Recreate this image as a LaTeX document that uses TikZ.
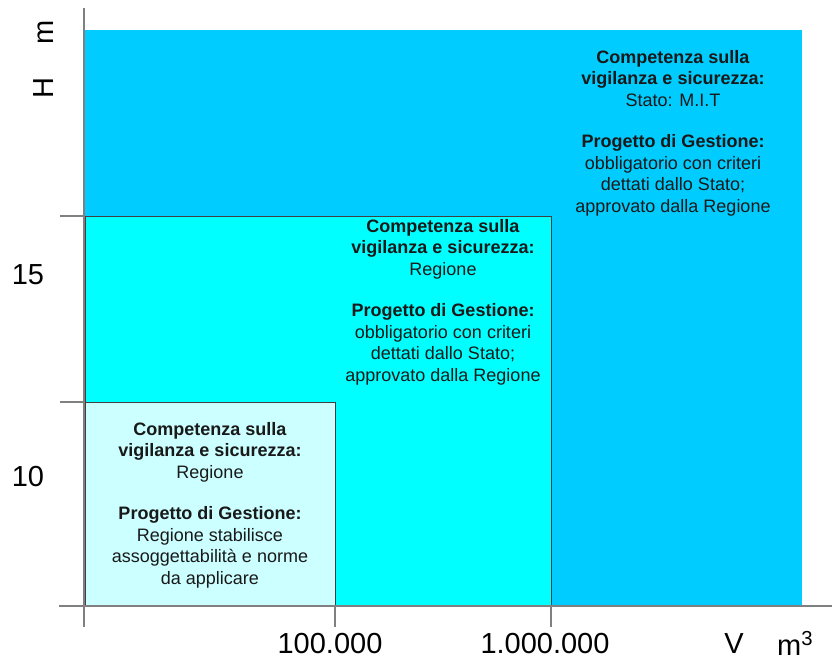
\documentclass[tikz,border=0pt]{standalone}
\usepackage{fontspec}
\setmainfont{Liberation Sans}
\definecolor{outerblue}{HTML}{00CCFF}
\definecolor{midcyan}{HTML}{00FFFF}
\definecolor{innercyan}{HTML}{CCFFFF}
\definecolor{axisgray}{HTML}{808080}
\definecolor{edgegray}{HTML}{404040}
\begin{document}
\begin{tikzpicture}[x=1pt,y=-1pt,
  blocktext/.style={align=center,font=\fontsize{18}{21.5}\selectfont,text=black!90,inner sep=0pt},
  axislabel/.style={font=\fontsize{29}{32}\selectfont,inner sep=0pt},
  axisline/.style={draw=axisgray,line width=1.2pt},
  zone/.style={line width=0.9pt}]
\useasboundingbox (0,0) rectangle (832,661);
% zones
\fill[outerblue] (85,30) rectangle (802,606);
\filldraw[zone,fill=midcyan,draw=edgegray] (85,216) rectangle (551,606);
\filldraw[zone,fill=innercyan,draw=edgegray] (85,402) rectangle (335,606);
% axes
\draw[axisline] (84,8) -- (84,627);
\draw[axisline] (59,606) -- (832,606);
\draw[axisline] (60,216) -- (84,216);
\draw[axisline] (60,402) -- (84,402);
\draw[axisline] (335,606) -- (335,627);
\draw[axisline] (551,606) -- (551,627);
% texts
\node[blocktext] (outer) at (673,133) {\textbf{Competenza sulla}\\ \textbf{vigilanza e sicurezza:}\\ Stato: M.I.T\\[20pt] \textbf{Progetto di Gestione:}\\ obbligatorio con criteri\\ dettati dallo Stato;\\ approvato dalla Regione};
\node[blocktext] (mid) at (443,302) {\textbf{Competenza sulla}\\ \textbf{vigilanza e sicurezza:}\\ Regione\\[20pt] \textbf{Progetto di Gestione:}\\ obbligatorio con criteri\\ dettati dallo Stato;\\ approvato dalla Regione};
\node[blocktext] (inner) at (210,505) {\textbf{Competenza sulla}\\ \textbf{vigilanza e sicurezza:}\\ Regione\\[20pt] \textbf{Progetto di Gestione:}\\ Regione stabilisce\\ assoggettabilità e norme\\ da applicare};
% axis labels
\node[axislabel] (y15) at (28,275) {15};
\node[axislabel] (y10) at (28,477) {10};
\node[axislabel] (x100k) at (330,644) {100.000};
\node[axislabel] (x1m) at (545,644) {1.000.000};
\node[axislabel] (xV) at (734,644) {V};
\node[axislabel,anchor=base west] (xm) at (777,655) {m\textsuperscript{3}};
\node[axislabel,rotate=90,anchor=base] (yH) at (53,88) {H};
\node[axislabel,rotate=90,anchor=base] (ym) at (53,32) {m};
\end{tikzpicture}
\end{document}
